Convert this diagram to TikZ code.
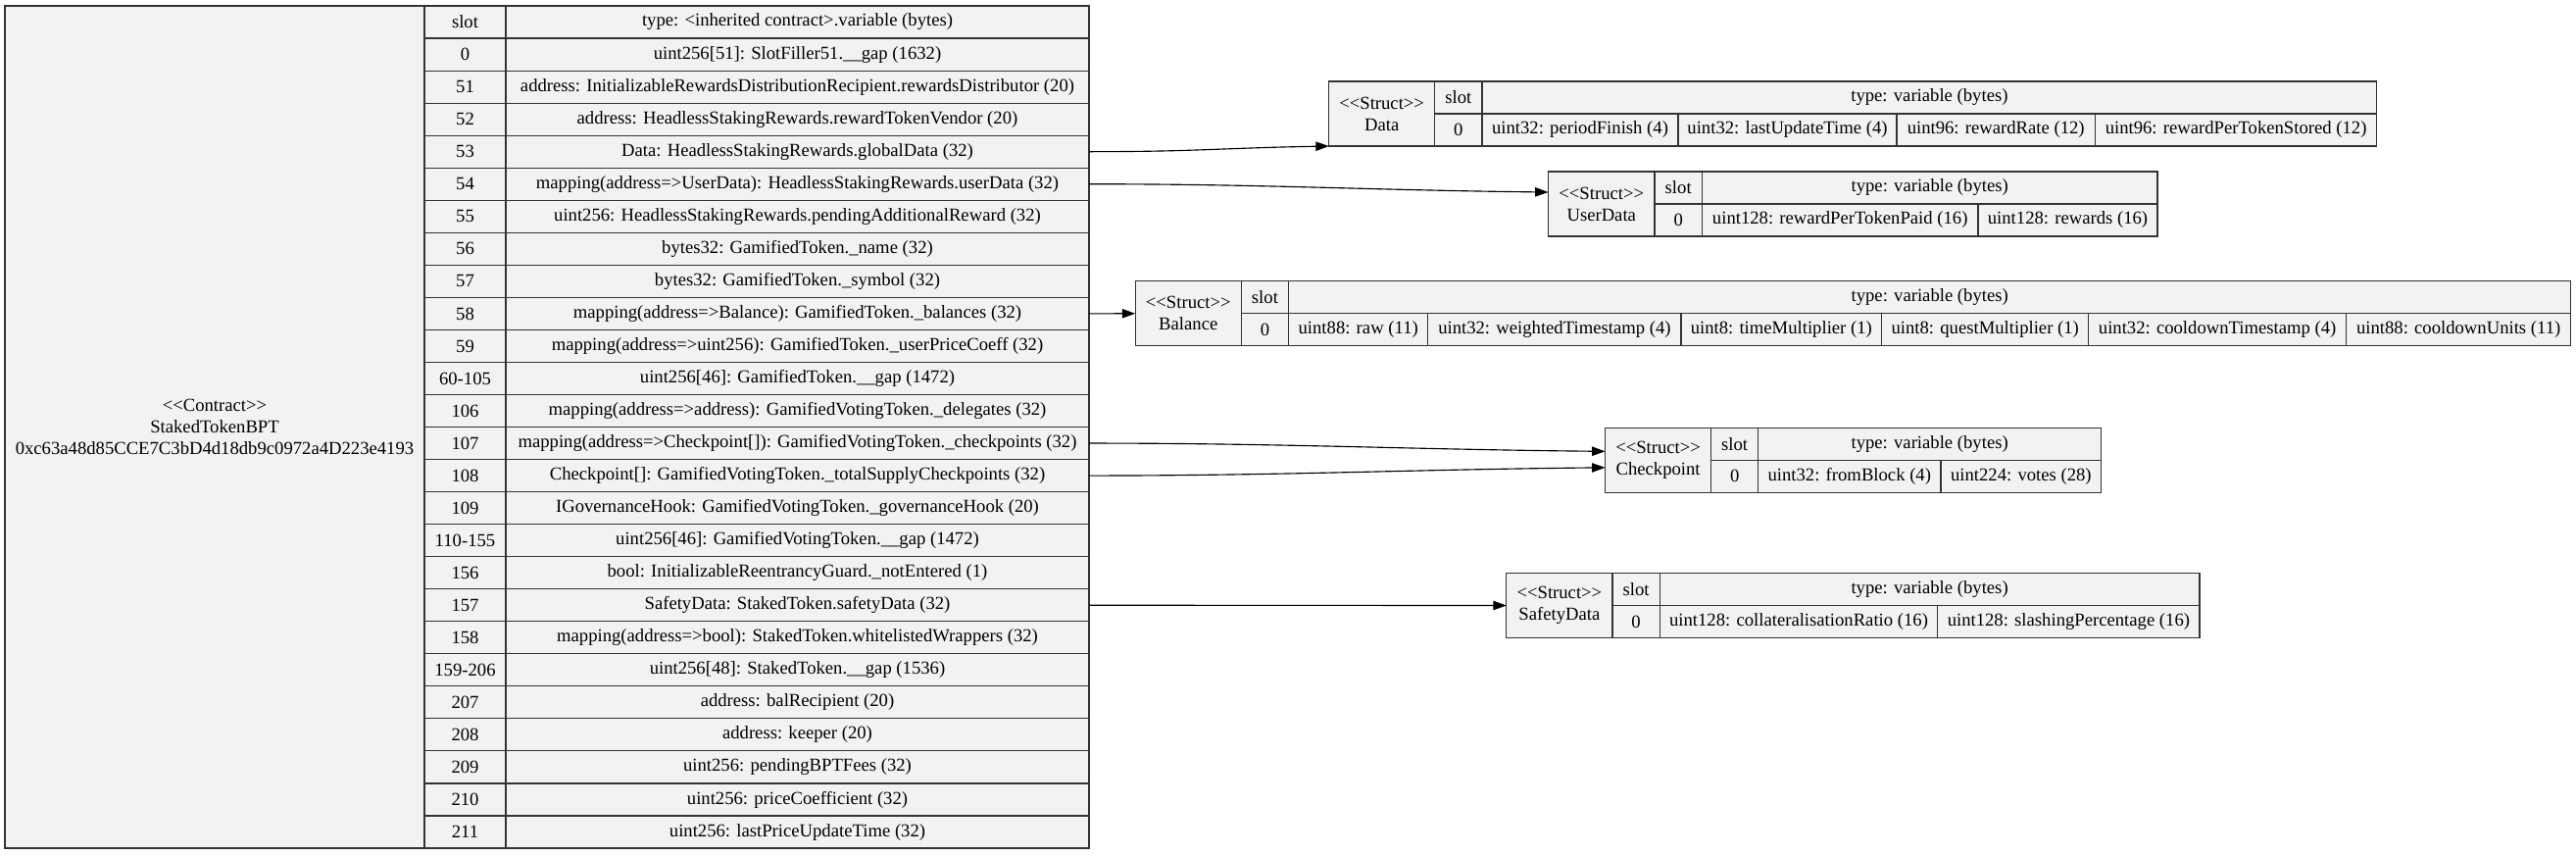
\documentclass[tikz,border=0pt]{standalone}
\usepackage{fontspec}
\newfontfamily\gvfont{Liberation Serif}
\usetikzlibrary{arrows.meta,calc}
\definecolor{cellfill}{HTML}{F2F2F2}
\definecolor{cellline}{HTML}{333333}
\tikzset{
  cellbox/.style={draw=cellline, fill=cellfill, line width=0.85pt, inner sep=0pt, outer sep=0pt,
    align=center, font=\gvfont\fontsize{14pt}{16.5pt}\selectfont, text=black},
  edge/.style={draw=black, line width=0.85pt, -{Triangle[length=10pt,width=7pt]}},
}
\newcommand\cel[6]{\node[cellbox, minimum width={(#4-#2)*0.75pt}, minimum height={(#5-#3)*0.75pt}, anchor=north west] (#1) at (#2,#3) {#6};}
\newcommand\mrow[3]{%
  \pgfmathsetmacro\ya{6+33.04*#1}\pgfmathsetmacro\yb{6+33.04*(#1+1)}%
  \cel{s#1}{433}{\ya}{516}{\yb}{#2}%
  \cel{t#1}{516}{\ya}{1111}{\yb}{#3}}
\begin{document}
\begin{tikzpicture}[x=0.75pt,y=-0.75pt]
\useasboundingbox (0,0) rectangle (2628,872);
% main contract table
\cel{contract}{5}{6}{433}{865}{<<Contract>>\\StakedTokenBPT\\0xc63a48d85CCE7C3bD4d18db9c0972a4D223e4193}
\mrow{0}{slot}{type: <inherited contract>.variable (bytes)}
\mrow{1}{0}{uint256[51]: SlotFiller51.\_\_gap (1632)}
\mrow{2}{51}{address: InitializableRewardsDistributionRecipient.rewardsDistributor (20)}
\mrow{3}{52}{address: HeadlessStakingRewards.rewardTokenVendor (20)}
\mrow{4}{53}{Data: HeadlessStakingRewards.globalData (32)}
\mrow{5}{54}{mapping(address=>UserData): HeadlessStakingRewards.userData (32)}
\mrow{6}{55}{uint256: HeadlessStakingRewards.pendingAdditionalReward (32)}
\mrow{7}{56}{bytes32: GamifiedToken.\_name (32)}
\mrow{8}{57}{bytes32: GamifiedToken.\_symbol (32)}
\mrow{9}{58}{mapping(address=>Balance): GamifiedToken.\_balances (32)}
\mrow{10}{59}{mapping(address=>uint256): GamifiedToken.\_userPriceCoeff (32)}
\mrow{11}{60-105}{uint256[46]: GamifiedToken.\_\_gap (1472)}
\mrow{12}{106}{mapping(address=>address): GamifiedVotingToken.\_delegates (32)}
\mrow{13}{107}{mapping(address=>Checkpoint[]): GamifiedVotingToken.\_checkpoints (32)}
\mrow{14}{108}{Checkpoint[]: GamifiedVotingToken.\_totalSupplyCheckpoints (32)}
\mrow{15}{109}{IGovernanceHook: GamifiedVotingToken.\_governanceHook (20)}
\mrow{16}{110-155}{uint256[46]: GamifiedVotingToken.\_\_gap (1472)}
\mrow{17}{156}{bool: InitializableReentrancyGuard.\_notEntered (1)}
\mrow{18}{157}{SafetyData: StakedToken.safetyData (32)}
\mrow{19}{158}{mapping(address=>bool): StakedToken.whitelistedWrappers (32)}
\mrow{20}{159-206}{uint256[48]: StakedToken.\_\_gap (1536)}
\mrow{21}{207}{address: balRecipient (20)}
\mrow{22}{208}{address: keeper (20)}
\mrow{23}{209}{uint256: pendingBPTFees (32)}
\mrow{24}{210}{uint256: priceCoefficient (32)}
\mrow{25}{211}{uint256: lastPriceUpdateTime (32)}
% Data
\cel{dL}{1355.7}{83}{1463.6}{149}{<<Struct>>\\Data}
\cel{dS}{1463.6}{83}{1512}{116}{slot}
\cel{dT}{1512}{83}{2424.8}{116}{type: variable (bytes)}
\cel{d0}{1463.6}{116}{1512}{149}{0}
\cel{d1}{1512}{116}{1712}{149}{uint32: periodFinish (4)}
\cel{d2}{1712}{116}{1935}{149}{uint32: lastUpdateTime (4)}
\cel{d3}{1935}{116}{2137.4}{149}{uint96: rewardRate (12)}
\cel{d4}{2137.4}{116}{2424.8}{149}{uint96: rewardPerTokenStored (12)}
% UserData
\cel{uL}{1579.5}{175}{1688}{241}{<<Struct>>\\UserData}
\cel{uS}{1688}{175}{1736.4}{208}{slot}
\cel{uT}{1736.4}{175}{2201}{208}{type: variable (bytes)}
\cel{u0}{1688}{208}{1736.4}{241}{0}
\cel{u1}{1736.4}{208}{2018}{241}{uint128: rewardPerTokenPaid (16)}
\cel{u2}{2018}{208}{2201}{241}{uint128: rewards (16)}
% Balance
\cel{bL}{1158.2}{286.6}{1266.3}{352.9}{<<Struct>>\\Balance}
\cel{bS}{1266.3}{286.6}{1314.6}{319.7}{slot}
\cel{bT}{1314.6}{286.6}{2622.8}{319.7}{type: variable (bytes)}
\cel{b0}{1266.3}{319.7}{1314.6}{352.9}{0}
\cel{b1}{1314.6}{319.7}{1456.8}{352.9}{uint88: raw (11)}
\cel{b2}{1456.8}{319.7}{1715}{352.9}{uint32: weightedTimestamp (4)}
\cel{b3}{1715}{319.7}{1919.6}{352.9}{uint8: timeMultiplier (1)}
\cel{b4}{1919.6}{319.7}{2130.8}{352.9}{uint8: questMultiplier (1)}
\cel{b5}{2130.8}{319.7}{2393.5}{352.9}{uint32: cooldownTimestamp (4)}
\cel{b6}{2393.5}{319.7}{2622.8}{352.9}{uint88: cooldownUnits (11)}
% Checkpoint
\cel{cL}{1637.5}{436.4}{1745.7}{502.3}{<<Struct>>\\Checkpoint}
\cel{cS}{1745.7}{436.4}{1793.6}{469.3}{slot}
\cel{cT}{1793.6}{436.4}{2143.7}{469.3}{type: variable (bytes)}
\cel{c0}{1745.7}{469.3}{1793.6}{502.3}{0}
\cel{c1}{1793.6}{469.3}{1980}{502.3}{uint32: fromBlock (4)}
\cel{c2}{1980}{469.3}{2143.7}{502.3}{uint224: votes (28)}
% SafetyData
\cel{sdL}{1536.8}{584.6}{1645}{650.4}{<<Struct>>\\SafetyData}
\cel{sdS}{1645}{584.6}{1693.2}{617.5}{slot}
\cel{sdT}{1693.2}{584.6}{2244}{617.5}{type: variable (bytes)}
\cel{sd0}{1645}{617.5}{1693.2}{650.4}{0}
\cel{sd1}{1693.2}{617.5}{1976.8}{650.4}{uint128: collateralisationRatio (16)}
\cel{sd2}{1976.8}{617.5}{2244}{650.4}{uint128: slashingPercentage (16)}
% edges
\coordinate (uIn) at ($(uL.west)+(0,-12)$);
\coordinate (cIn1) at ($(cL.west)+(0,-9)$);
\coordinate (cIn2) at ($(cL.west)+(0,7.5)$);
\draw[edge] (t4.east) .. controls +(110,0) and +(-110,2) .. (dL.south west);
\draw[edge] (t5.east) .. controls +(180,0) and +(-180,-2) .. (uIn);
\draw[edge] (t9.east) -- (bL.west);
\draw[edge] (t13.east) .. controls +(200,0) and +(-200,-2) .. (cIn1);
\draw[edge] (t14.east) .. controls +(200,0) and +(-200,2) .. (cIn2);
\draw[edge] (t18.east) -- (sdL.west);
\end{tikzpicture}
\end{document}
